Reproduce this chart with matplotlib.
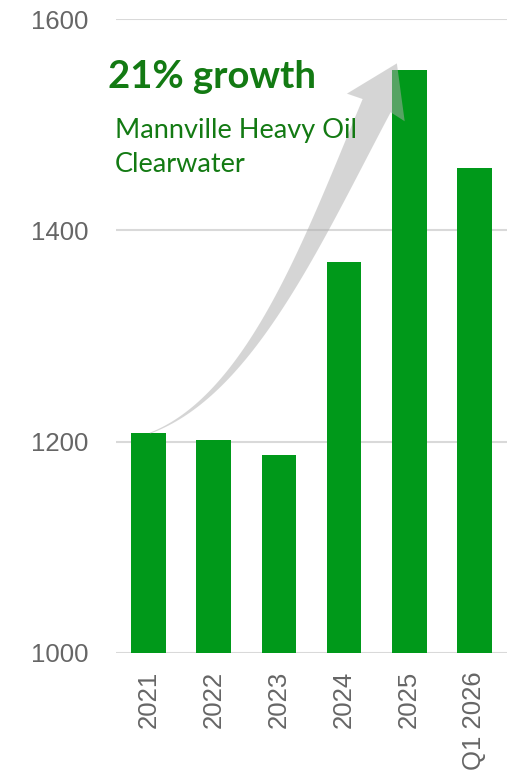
import numpy as np
import matplotlib
matplotlib.use("Agg")
from matplotlib import pyplot as plt
from matplotlib.patches import Polygon

categories = ["2021", "2022", "2023", "2024", "2025", "Q1 2026"]
values = [1208, 1202, 1187, 1370, 1552, 1459]
yticks = [1000, 1200, 1400, 1600]

title = "21% growth"
subtitle = ["Mannville Heavy Oil", "Clearwater"]

bar_color = "#00991a"
title_color = "#137a13"
grid_color = "#d9d9d9"
label_color = "#666666"

fig = plt.figure(figsize=(5.13, 7.76), dpi=100)
ax = fig.add_axes([116 / 513, 1 - 653 / 776, (507 - 116) / 513, (653 - 19) / 776])

x = np.arange(len(categories))
ax.bar(x, values, width=0.53, color=bar_color, zorder=2)

ax.set_xlim(-0.5, len(categories) - 0.5)
ax.set_ylim(1000, 1600)
ax.set_yticks(yticks)
ax.set_xticks(x)
ax.set_xticklabels(categories, rotation=90)
for s in ax.spines.values():
    s.set_visible(False)
ax.grid(axis="y", color=grid_color, linewidth=1.5, zorder=1)
ax.tick_params(length=0, labelsize=18.5, labelcolor=label_color)
ax.tick_params(axis="y", pad=20)
ax.tick_params(axis="x", pad=13)
for lab in ax.get_xticklabels() + ax.get_yticklabels():
    lab.set_fontfamily("Liberation Sans")

# curved growth arrow, built in display space
fig.canvas.draw()
T = ax.transData.transform
P0 = T((0.02, values[0]))
P1 = T((1.56, 1244))
P2 = T((2.52, 1390))
P3 = T((3.5, 1518))
tip = T((3.81, values[4] + 6))

u = np.linspace(0, 1, 80)[:, None]
curve = ((1 - u) ** 3) * P0 + 3 * ((1 - u) ** 2) * u * P1 + 3 * (1 - u) * u ** 2 * P2 + u ** 3 * P3
d = np.gradient(curve, axis=0)
d = d / np.linalg.norm(d, axis=1)[:, None]
n = np.column_stack([d[:, 1], -d[:, 0]])
w = (0.5 + 15 * u[:, 0] ** 1.4)[:, None]
left = curve - n * w
right = curve + n * w

dh = tip - P3
dh = dh / np.linalg.norm(dh)
nh = np.array([dh[1], -dh[0]])
barb_l = P3 - nh * 32 - dh * 2
barb_r = P3 + nh * 32 - dh * 2
if np.dot(barb_l - P3, n[-1]) > 0:
    barb_l, barb_r = barb_r, barb_l

pts = np.vstack([left, [barb_l], [tip], [barb_r], right[::-1]])
arrow = Polygon(pts, closed=True, transform=None, facecolor="#adadad", edgecolor="none",
                alpha=0.5, zorder=3)
fig.patches.append(arrow)

fig.text(108 / 513, 1 - 88 / 776, title, fontsize=27.5, fontweight="bold", color=title_color,
         family="Lato", va="baseline", ha="left")
fig.text(115 / 513, 1 - 138 / 776, subtitle[0], fontsize=19.5, color=title_color,
         family="Lato", va="baseline", ha="left")
fig.text(115 / 513, 1 - 172 / 776, subtitle[1], fontsize=19.5, color=title_color,
         family="Lato", va="baseline", ha="left")

fig.savefig("out.png", dpi=100)
